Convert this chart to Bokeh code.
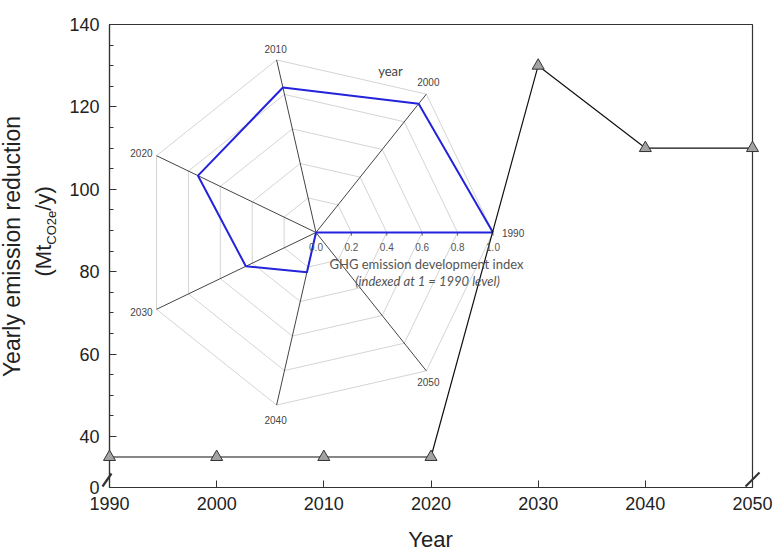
import numpy as np
from bokeh.plotting import figure
from bokeh.models import Range1d, FixedTicker, Label, ColumnDataSource
from bokeh.embed import file_html
from bokeh.resources import INLINE
from bokeh.core.properties import value

# ---- main series ----
years = [1990, 2000, 2010, 2020, 2030, 2040, 2050]
reduction = [35, 35, 35, 35, 130, 110, 110]
y_ticks = [27.6, 40, 60, 80, 100, 120, 140]
y_tick_labels = ["0", "40", "60", "80", "100", "120", "140"]
y_minor = [45, 50, 55, 65, 70, 75, 85, 90, 95, 105, 110, 115, 125, 130, 135]

# ---- radar inset ----
radar_years = ["1990", "2000", "2010", "2020", "2030", "2040", "2050"]
radar_index = [1.0, 0.93, 0.84, 0.74, 0.44, 0.23, 0.0]
radar_rings = [0.2, 0.4, 0.6, 0.8, 1.0]
radar_tick_labels = ["0.0", "0.2", "0.4", "0.6", "0.8", "1.0"]
radar_tick_values = [0.0, 0.2, 0.4, 0.6, 0.8, 1.0]

AX_FONT = "Liberation Sans"

FL, FR, FT, FB = 109, 752, 24, 487
W, H = 774, 554
p = figure(width=W, height=H, x_range=Range1d(1990, 2050), y_range=Range1d(27.6, 140),
           output_backend="svg", toolbar_location=None,
           min_border_left=FL, min_border_right=W - FR, min_border_top=FT, min_border_bottom=H - FB)
p.grid.visible = False
p.outline_line_color = "#333333"
p.outline_line_width = 1.2

# page-pixel helper ranges
p.extra_x_ranges["px"] = Range1d(FL, FR)
p.extra_y_ranges["py"] = Range1d(FB, FT)
# radar ranges: centre and radius in page pixels
CX, CY, R = 315.5, 232.0, 177.0
p.extra_x_ranges["rx"] = Range1d((FL - CX) / R, (FR - CX) / R)
p.extra_y_ranges["ry"] = Range1d(-(FB - CY) / R, (CY - FT) / R)

# axes
xa = p.xaxis[0]
xa.ticker = FixedTicker(ticks=years)
xa.major_tick_in = 7
xa.major_tick_out = 0
xa.minor_tick_in = 0
xa.minor_tick_out = 0
xa.major_label_text_font = AX_FONT
xa.major_label_text_font_size = "18px"
xa.major_label_text_color = "#222222"
xa.major_label_standoff = 9
xa.axis_line_color = "#333333"
xa.axis_line_width = 1.2
xa.major_tick_line_color = "#333333"

ya = p.yaxis[0]
ya.ticker = FixedTicker(ticks=y_ticks, minor_ticks=y_minor)
ya.major_label_overrides = {t: l for t, l in zip(y_ticks, y_tick_labels)}
ya.major_tick_in = 7
ya.major_tick_out = 0
ya.minor_tick_in = 4
ya.minor_tick_out = 0
ya.major_label_text_font = AX_FONT
ya.major_label_text_font_size = "18px"
ya.major_label_text_color = "#222222"
ya.major_label_standoff = 10
ya.axis_line_color = "#333333"
ya.axis_line_width = 1.2
ya.major_tick_line_color = "#333333"
ya.minor_tick_line_color = "#333333"

# ---- radar drawing ----
n = len(radar_years)
ang = [2 * np.pi * k / n for k in range(n)]
ring_xs = [[r * np.cos(a) for a in ang + [ang[0]]] for r in radar_rings]
ring_ys = [[r * np.sin(a) for a in ang + [ang[0]]] for r in radar_rings]
p.multi_line(xs=ring_xs, ys=ring_ys, line_color="#d4d4d4", line_width=1,
             x_range_name="rx", y_range_name="ry")
outer = radar_rings[-1]
p.segment(x0=[0] * n, y0=[0] * n, x1=[outer * np.cos(a) for a in ang],
          y1=[outer * np.sin(a) for a in ang], line_color="#444444", line_width=1,
          x_range_name="rx", y_range_name="ry")
p.segment(x0=radar_tick_values, y0=[0] * 6, x1=radar_tick_values, y1=[-0.018] * 6,
          line_color="#666666", line_width=1, x_range_name="rx", y_range_name="ry")
rpx = [v * np.cos(a) for v, a in zip(radar_index, ang)]
rpy = [v * np.sin(a) for v, a in zip(radar_index, ang)]
p.line(x=rpx + [rpx[0]], y=rpy + [rpy[0]], line_color="#2323dc", line_width=2,
       x_range_name="rx", y_range_name="ry")

offsets = [(9, 0, "left"), (2, 12, "center"), (-1, 11, "center"), (-4, 3, "right"),
           (-4, -3, "right"), (-1, -15, "center"), (2, -11, "center")]
for lab, a, (dx, dy, al) in zip(radar_years, ang, offsets):
    p.add_layout(Label(x=outer * np.cos(a), y=outer * np.sin(a), x_range_name="rx", y_range_name="ry",
                       text=lab, x_offset=dx, y_offset=dy, text_align=al, text_baseline="middle",
                       text_font=AX_FONT, text_font_size="10px", text_color="#444444"))
for v, lab in zip(radar_tick_values, radar_tick_labels):
    p.add_layout(Label(x=v, y=0, x_range_name="rx", y_range_name="ry", text=lab,
                       y_offset=-14, text_align="center", text_baseline="middle",
                       text_font=AX_FONT, text_font_size="10px", text_color="#555555"))

p.add_layout(Label(x=390, y=70, x_range_name="px", y_range_name="py", text="year",
                   text_align="center", text_baseline="middle", text_font="Lato",
                   text_font_size="13px", text_color="#444444"))
p.add_layout(Label(x=426, y=263, x_range_name="px", y_range_name="py",
                   text="GHG emission development index", text_align="center",
                   text_baseline="middle", text_font="Lato", text_font_size="13px",
                   text_color="#555555"))
p.add_layout(Label(x=427, y=280, x_range_name="px", y_range_name="py",
                   text="(indexed at 1 = 1990 level)", text_align="center",
                   text_baseline="middle", text_font="Lato", text_font_size="13px",
                   text_font_style="italic", text_color="#555555"))

# ---- main series ----
src = ColumnDataSource(dict(year=years, val=reduction))
p.line("year", "val", source=src, line_color="#111111", line_width=1.2)
p.scatter("year", "val", source=src, marker="triangle", size=12, fill_color="#a3a3a3",
          line_color="#333333", line_width=1, level="overlay")

# axis break marks
p.segment(x0=[102, 745], y0=[486, 486], x1=[111, 759], y1=[473, 472], line_color="#333333",
          line_width=2.2, x_range_name="px", y_range_name="py", level="overlay")

# axis titles (text glyphs at overlay level so they may sit outside the frame)
def title_text(x, y, t, size, align="center", angle=0.0):
    p.text(x=[x], y=[y], text=[t], angle=angle, text_align=align, text_baseline="middle",
           text_font=value(AX_FONT), text_font_size=value(size), text_color="#222222",
           x_range_name="px", y_range_name="py", level="overlay")

title_text(430, 539, "Year", "22px")
title_text(11, 246, "Yearly emission reduction", "23px", angle=np.pi / 2)
title_text(43, 276, "(Mt", "22px", align="left", angle=np.pi / 2)
title_text(50.5, 244.2, "CO2e", "13px", align="left", angle=np.pi / 2)
title_text(43, 210.2, "/y)", "22px", align="left", angle=np.pi / 2)

open("out.html", "w").write(file_html(p, INLINE))
